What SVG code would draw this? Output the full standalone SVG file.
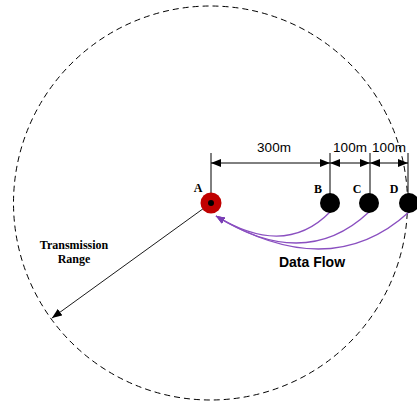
<svg xmlns="http://www.w3.org/2000/svg" width="417" height="403" viewBox="0 0 417 403">
<style>
.lbl{font-family:"Liberation Serif",serif;font-weight:bold;font-size:12px;fill:#000}
.dim{font-family:"Liberation Sans",Arial,sans-serif;font-size:13.5px;fill:#000}
.flow{stroke:#8a4fc0;stroke-width:1.3;fill:none;marker-end:url(#pa)}
.tick{stroke:#000;stroke-width:1}
</style>
<defs>
<marker id="ka" markerWidth="10" markerHeight="8" refX="10" refY="4" orient="auto-start-reverse" markerUnits="userSpaceOnUse"><path d="M0,0 L10,4 L0,8 Z" fill="#000"/></marker>
<marker id="pa" markerWidth="9" markerHeight="7" refX="9" refY="3.5" orient="auto" markerUnits="userSpaceOnUse"><path d="M0,0 L9,3.5 L0,7 Z" fill="#7a3fb5"/></marker>
</defs>
<rect width="417" height="403" fill="#fff"/>
<circle cx="210.5" cy="203" r="197" fill="none" stroke="#000" stroke-width="1" stroke-dasharray="6,4"/>
<g id="connectors">
<line class="tick" x1="211" y1="153" x2="211" y2="203"/>
<line class="tick" x1="330" y1="153" x2="330" y2="195"/>
<line class="tick" x1="370" y1="153" x2="370" y2="195"/>
<line class="tick" x1="408" y1="153" x2="408" y2="195"/>
<line class="tick" x1="211" y1="163" x2="330" y2="163" marker-start="url(#ka)" marker-end="url(#ka)"/>
<line class="tick" x1="330" y1="163" x2="370" y2="163" marker-start="url(#ka)" marker-end="url(#ka)"/>
<line class="tick" x1="370" y1="163" x2="408" y2="163" marker-start="url(#ka)" marker-end="url(#ka)"/>
<line x1="211" y1="203" x2="52" y2="318" stroke="#000" stroke-width="0.9" marker-end="url(#ka)"/>
<path class="flow" d="M330,212 Q285,258 216,216"/>
<path class="flow" d="M369,212 Q305,272 216,216"/>
<path class="flow" d="M409,212 Q330,284 216,216"/>
</g>
<g id="nodeA"><circle cx="211" cy="203" r="10.5" fill="#c00000"/><circle cx="211" cy="203" r="3" fill="#000"/><text class="lbl" x="198" y="192" text-anchor="middle">A</text></g>
<g id="nodeB"><circle cx="330" cy="203" r="10" fill="#000"/><text class="lbl" x="318" y="193" text-anchor="middle">B</text></g>
<g id="nodeC"><circle cx="369" cy="203" r="10" fill="#000"/><text class="lbl" x="357" y="193" text-anchor="middle">C</text></g>
<g id="nodeD"><circle cx="409" cy="203" r="10" fill="#000"/><text class="lbl" x="394" y="193" text-anchor="middle">D</text></g>
<text class="dim" x="274" y="152" text-anchor="middle">300m</text>
<text class="dim" x="350" y="152" text-anchor="middle">100m</text>
<text class="dim" x="389" y="152" text-anchor="middle">100m</text>
<text x="312" y="267" text-anchor="middle" font-family="Liberation Sans,Arial,sans-serif" font-weight="bold" font-size="14">Data Flow</text>
<text class="lbl" x="74" y="249" text-anchor="middle">Transmission</text>
<text class="lbl" x="74" y="263" text-anchor="middle">Range</text>
</svg>
